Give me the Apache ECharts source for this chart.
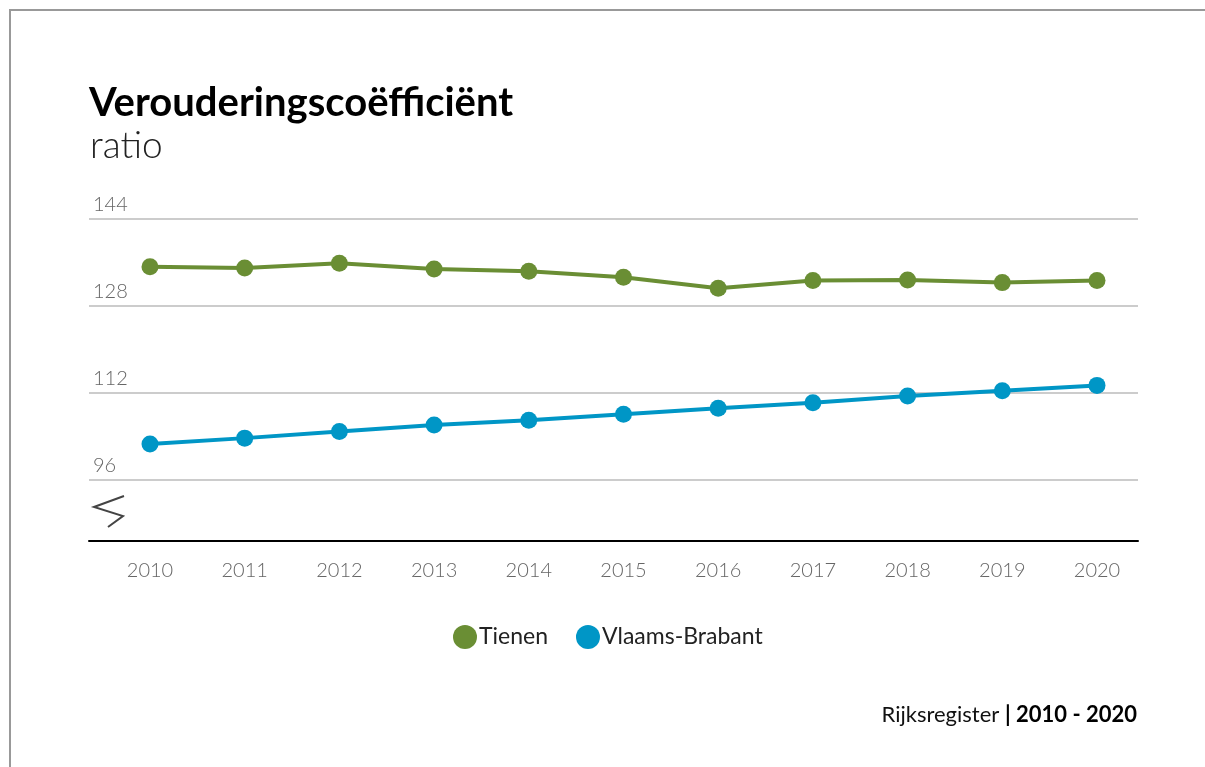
<!DOCTYPE html>
<html lang="nl">
<head>
    <meta charset="UTF-8">
    <title>Verouderingscoëfficiënt</title>
    <script src="https://cdn.jsdelivr.net/npm/echarts@6/dist/echarts.min.js"></script>
    <style>
        html, body { margin: 0; padding: 0; background: #fff; }
        #frame { position: absolute; left: 9px; top: 9px; width: 1300px; height: 900px; border-left: 2px solid #999; border-top: 2px solid #999; }
        #main { position: absolute; left: 0; top: 0; width: 1205px; height: 767px; }
    </style>
</head>
<body>
<div id="frame"></div>
<div id="main"></div>
<script type="text/javascript">
    var years = [2010, 2011, 2012, 2013, 2014, 2015, 2016, 2017, 2018, 2019, 2020];
    var tienen = [135.2, 135.0, 135.85, 134.8, 134.4, 133.3, 131.25, 132.7, 132.8, 132.3, 132.7];
    var vlaamsBrabant = [102.6, 103.7, 104.9, 106.1, 107.0, 108.1, 109.2, 110.2, 111.45, 112.4, 113.4];
    var yTicks = [96, 112, 128, 144];

    var FONT = 'Lato';
    var myChart = echarts.init(document.getElementById('main'));

    function pairs(vals) {
        return years.map(function (y, i) { return [y, vals[i]]; });
    }

    var option = {
        animation: false,
        title: [{
            text: 'Verouderingscoëfficiënt',
            left: 84,
            top: 78,
            textStyle: { fontFamily: FONT, fontWeight: 'bold', fontSize: 40, color: '#000' }
        }, {
            text: 'ratio',
            left: 85,
            top: 123,
            textStyle: { fontFamily: FONT, fontWeight: 300, fontSize: 37, color: '#222' }
        }, {
            text: '{a|Rijksregister }{b|| 2010 - 2020}',
            right: 63,
            top: 699,
            textStyle: {
                rich: {
                    a: { fontFamily: FONT, fontSize: 22, fontWeight: 'normal', color: '#111' },
                    b: { fontFamily: FONT, fontSize: 22, fontWeight: 'bold', color: '#000' }
                }
            }
        }],
        legend: {
            top: 620,
            left: 448,
            icon: 'circle',
            itemWidth: 24,
            itemHeight: 24,
            itemGap: 28,
            textStyle: { fontFamily: FONT, fontSize: 23, color: '#222', padding: [0, 0, 0, -3] },
            data: ['Tienen', 'Vlaams-Brabant']
        },
        grid: { left: 89, right: 67, top: 219, bottom: 226, containLabel: false },
        xAxis: {
            type: 'value',
            min: 2009.356,
            max: 2020.433,
            axisLine: { show: true, onZero: false, lineStyle: { color: '#000', width: 2 } },
            axisTick: { show: false, customValues: years },
            splitLine: { show: false },
            axisLabel: {
                customValues: years,
                margin: 20,
                fontFamily: FONT,
                fontWeight: 300,
                fontSize: 20,
                color: '#666',
                formatter: function (v) { return String(v); }
            }
        },
        yAxis: {
            type: 'value',
            min: 84.78,
            max: 144,
            axisLine: { show: false },
            axisTick: { show: false, customValues: yTicks },
            splitLine: { show: true, lineStyle: { color: '#ccc', width: 2 } },
            axisLabel: {
                customValues: yTicks,
                inside: true,
                margin: 4,
                verticalAlign: 'bottom',
                padding: [0, 0, 4, 0],
                fontFamily: FONT,
                fontWeight: 300,
                fontSize: 20,
                color: '#666'
            }
        },
        graphic: [{
            type: 'polyline',
            shape: { points: [[124, 496], [94, 507], [123, 516], [108, 527]] },
            style: { stroke: '#444', lineWidth: 2, fill: null }
        }],
        series: [{
            name: 'Tienen',
            type: 'line',
            data: pairs(tienen),
            symbol: 'circle',
            symbolSize: 17,
            color: '#6a8e34',
            lineStyle: { width: 4, color: '#6a8e34' },
            itemStyle: { color: '#6a8e34' }
        }, {
            name: 'Vlaams-Brabant',
            type: 'line',
            data: pairs(vlaamsBrabant),
            symbol: 'circle',
            symbolSize: 17,
            color: '#0096c6',
            lineStyle: { width: 4, color: '#0096c6' },
            itemStyle: { color: '#0096c6' }
        }]
    };
    myChart.setOption(option);
</script>
</body>
</html>
